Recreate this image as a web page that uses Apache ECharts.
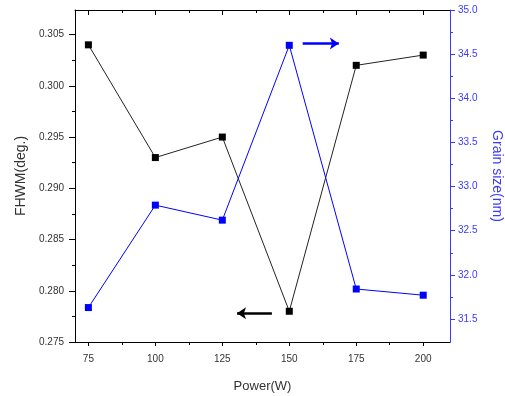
<!DOCTYPE html>
<html>
<head>
<meta charset="utf-8">
<script src="https://cdn.jsdelivr.net/npm/echarts@6/dist/echarts.min.js"></script>
<style>
  html, body { margin: 0; padding: 0; background: #fff; }
  #main { width: 505px; height: 396px; }
</style>
</head>
<body>
<div id="main"></div>
<script>
// data
var power = [75, 100, 125, 150, 175, 200];
var fwhm = [0.304, 0.293, 0.295, 0.278, 0.302, 0.303];
var grainSize = [31.63, 32.79, 32.62, 34.6, 31.84, 31.77];

var xTicks = [75, 100, 125, 150, 175, 200];
var xMinor = [87.5, 112.5, 137.5, 162.5, 187.5];
var leftTicks = [0.275, 0.28, 0.285, 0.29, 0.295, 0.3, 0.305];
var leftMinor = [0.2775, 0.2825, 0.2875, 0.2925, 0.2975, 0.3025];
var rightTicks = [31.5, 32.0, 32.5, 33.0, 33.5, 34.0, 34.5, 35.0];
var rightMinor = [31.75, 32.25, 32.75, 33.25, 33.75, 34.25, 34.75];

// arrow annotations [x0, y0, x1, y1] in data units
var leftArrow = [143.5, 0.2778, 130.5, 0.2778];
var rightArrow = [155, 34.62, 168.5, 34.62];

var FONT = 'Liberation Sans, Arial, sans-serif';
var BLUE = '#0000ff';
var AXBLUE = '#3a3aff';

var chartDom = document.getElementById('main');
var myChart = echarts.init(chartDom);
var option;

function pairs(xs, ys) {
  return xs.map(function (x, i) { return [x, ys[i]]; });
}

var baseX = { type: 'value', min: 70, max: 210, splitLine: { show: false } };

option = {
  animation: false,
  grid: { left: 75, right: 55, top: 10, bottom: 54, containLabel: false, outerBoundsMode: 'none' },
  xAxis: [
    Object.assign({}, baseX, {
      position: 'bottom',
      name: 'Power(W)',
      nameLocation: 'middle',
      nameGap: 38,
      nameTextStyle: { fontFamily: FONT, fontSize: 13, color: '#333' },
      axisLine: { lineStyle: { color: '#000', width: 1 } },
      axisTick: { customValues: xTicks, length: 4, lineStyle: { color: '#000' } },
      axisLabel: { customValues: xTicks, margin: 12, fontFamily: FONT, fontSize: 10, color: '#333' }
    }),
    Object.assign({}, baseX, {
      position: 'bottom',
      axisLine: { show: false },
      axisTick: { customValues: xMinor, length: 3, lineStyle: { color: '#000' } },
      axisLabel: { show: false }
    }),
    Object.assign({}, baseX, {
      position: 'top',
      axisLine: { lineStyle: { color: '#000', width: 1 } },
      axisTick: { inside: true, customValues: xTicks, length: 5, lineStyle: { color: '#000' } },
      axisLabel: { show: false }
    }),
    Object.assign({}, baseX, {
      position: 'top',
      axisLine: { show: false },
      axisTick: { inside: true, customValues: xMinor, length: 3, lineStyle: { color: '#000' } },
      axisLabel: { show: false }
    })
  ],
  yAxis: [
    {
      type: 'value',
      position: 'left',
      min: 0.275,
      max: 0.3074,
      splitLine: { show: false },
      name: 'FHWM(deg.)',
      nameLocation: 'middle',
      nameRotate: 90,
      nameGap: 46,
      nameTextStyle: { fontFamily: FONT, fontSize: 14, color: '#333' },
      axisLine: { show: true, lineStyle: { color: '#000', width: 1 } },
      axisTick: { customValues: leftTicks, length: 6, lineStyle: { color: '#000' } },
      axisLabel: {
        customValues: leftTicks, margin: 11, fontFamily: FONT, fontSize: 10, color: '#333',
        formatter: function (v) { return v.toFixed(3); }
      }
    },
    {
      type: 'value',
      position: 'left',
      min: 0.275,
      max: 0.3074,
      splitLine: { show: false },
      axisLine: { show: false },
      axisTick: { customValues: leftMinor, length: 3, lineStyle: { color: '#000' } },
      axisLabel: { show: false }
    },
    {
      type: 'value',
      position: 'right',
      min: 31.24,
      max: 35,
      splitLine: { show: false },
      name: 'Grain size(nm)',
      nameLocation: 'middle',
      nameRotate: -90,
      nameGap: 40,
      nameTextStyle: { fontFamily: FONT, fontSize: 14, color: AXBLUE },
      axisLine: { show: true, lineStyle: { color: AXBLUE, width: 1 } },
      axisTick: { customValues: rightTicks, length: 5, lineStyle: { color: AXBLUE } },
      axisLabel: {
        customValues: rightTicks, margin: 8, fontFamily: FONT, fontSize: 10, color: AXBLUE,
        formatter: function (v) { return v.toFixed(1); }
      }
    },
    {
      type: 'value',
      position: 'right',
      min: 31.24,
      max: 35,
      splitLine: { show: false },
      axisLine: { show: false },
      axisTick: { customValues: rightMinor, length: 3, lineStyle: { color: AXBLUE } },
      axisLabel: { show: false }
    }
  ],
  series: [
    {
      name: 'FHWM',
      type: 'line',
      xAxisIndex: 0,
      yAxisIndex: 0,
      data: pairs(power, fwhm),
      symbol: 'rect',
      symbolSize: 7,
      lineStyle: { color: '#222', width: 1 },
      itemStyle: { color: '#000' },
      markLine: {
        silent: true,
        symbol: ['none', 'arrow'],
        symbolSize: [9, 9],
        label: { show: false },
        lineStyle: { color: '#000', width: 2.5, type: 'solid' },
        data: [[{ coord: [leftArrow[0], leftArrow[1]] }, { coord: [leftArrow[2], leftArrow[3]] }]]
      }
    },
    {
      name: 'Grain size',
      type: 'line',
      xAxisIndex: 0,
      yAxisIndex: 2,
      data: pairs(power, grainSize),
      symbol: 'rect',
      symbolSize: 7,
      lineStyle: { color: BLUE, width: 1 },
      itemStyle: { color: BLUE },
      markLine: {
        silent: true,
        symbol: ['none', 'arrow'],
        symbolSize: [9, 9],
        label: { show: false },
        lineStyle: { color: BLUE, width: 2.5, type: 'solid' },
        data: [[{ coord: [rightArrow[0], rightArrow[1]] }, { coord: [rightArrow[2], rightArrow[3]] }]]
      }
    }
  ]
};

option && myChart.setOption(option);
window.addEventListener("resize", function() {
    myChart.resize();
  });
</script>
</body>
</html>
